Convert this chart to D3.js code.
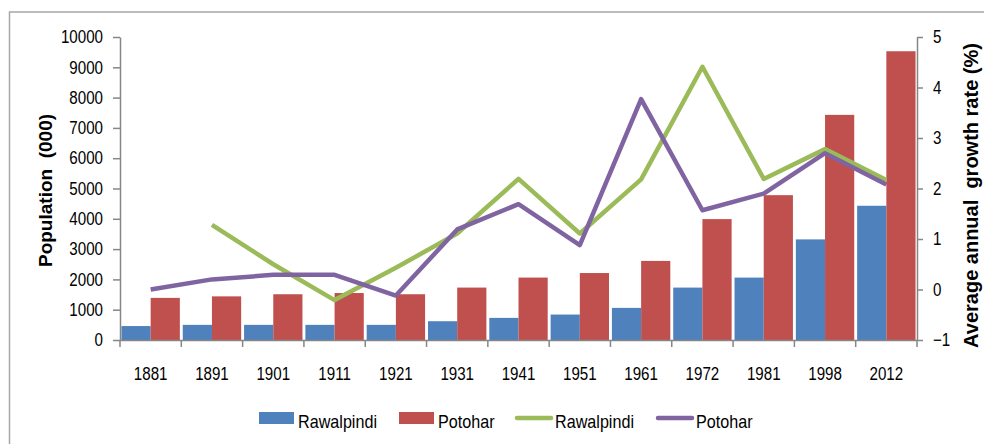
<!DOCTYPE html>
<html>
<head>
<meta charset="utf-8">
<script src="https://cdn.jsdelivr.net/npm/d3@7"></script>
<style>
  body { margin: 0; background: #fff; }
  text { font-family: "Liberation Sans", sans-serif; fill: #000; }
  .title { font-weight: bold; white-space: pre; }
  .axis path, .axis line { stroke: #868686; stroke-width: 1.5; }
</style>
</head>
<body>
<div id="graph-container"></div>
<script>
const years = ['1881', '1891', '1901', '1911', '1921', '1931', '1941', '1951', '1961', '1972', '1981', '1998', '2012'];

// population (000)
const popRawalpindi = [460, 500, 500, 500, 500, 620, 730, 840, 1060, 1730, 2060, 3320, 4430];
const popPotohar = [1390, 1440, 1510, 1550, 1510, 1730, 2060, 2210, 2610, 3990, 4780, 7430, 9530];

// average annual growth rate (%), no value for Rawalpindi in 1881
const rateRawalpindi = [null, 1.28, 0.5, -0.21, 0.43, 1.11, 2.19, 1.11, 2.18, 4.41, 2.19, 2.78, 2.17];
const ratePotohar = [0, 0.2, 0.29, 0.29, -0.12, 1.19, 1.69, 0.88, 3.77, 1.57, 1.9, 2.7, 2.08];

const popTicks = [0, 1000, 2000, 3000, 4000, 5000, 6000, 7000, 8000, 9000, 10000];
const rateTicks = [-1, 0, 1, 2, 3, 4, 5];

const legendItems = [
  { label: 'Rawalpindi', color: '#4F81BD', type: 'bar' },
  { label: 'Potohar', color: '#C0504D', type: 'bar' },
  { label: 'Rawalpindi', color: '#9BBB59', type: 'line' },
  { label: 'Potohar', color: '#8064A2', type: 'line' }
];

const width = 984, height = 444;
const plot = { left: 120, right: 917, top: 37, bottom: 340 };

// the original uses a condensed face; squeeze regular text horizontally
function narrow(sel, k) {
  sel.each(function() {
    this.setAttribute('textLength', this.getComputedTextLength() * k);
    this.setAttribute('lengthAdjust', 'spacingAndGlyphs');
  });
}

const svg = d3.select('#graph-container')
  .append('svg')
  .attr('width', width)
  .attr('height', height);

// outer chart frame (only top and left edges are visible in the picture)
svg.append('rect')
  .attr('x', 9.5)
  .attr('y', 12)
  .attr('width', width + 20)
  .attr('height', height + 20)
  .attr('fill', 'none')
  .attr('stroke', '#a6a6a6')
  .attr('stroke-width', 1.5);

const x = d3.scaleBand()
  .domain(years)
  .range([plot.left, plot.right]);

const yPop = d3.scaleLinear()
  .domain([0, 10000])
  .range([plot.bottom, plot.top]);

const yRate = d3.scaleLinear()
  .domain([-1, 5])
  .range([plot.bottom, plot.top]);

// two bars per year, filling ~90% of the band
const inner = d3.scaleBand()
  .domain([0, 1])
  .range([0, x.bandwidth()])
  .paddingOuter(0.05);

const barSeries = [
  { values: popRawalpindi, color: '#4F81BD' },
  { values: popPotohar, color: '#C0504D' }
];

barSeries.forEach(function(s, si) {
  svg.append('g')
    .selectAll('rect')
    .data(s.values)
    .enter()
    .append('rect')
    .attr('x', (d, i) => x(years[i]) + inner(si))
    .attr('y', d => yPop(d))
    .attr('width', inner.bandwidth())
    .attr('height', d => yPop(0) - yPop(d))
    .attr('fill', s.color);
});

// lines
const lineSeries = [
  { values: rateRawalpindi, color: '#9BBB59' },
  { values: ratePotohar, color: '#8064A2' }
];

const line = d3.line()
  .defined(d => d != null)
  .x((d, i) => x(years[i]) + x.bandwidth() / 2)
  .y(d => yRate(d));

lineSeries.forEach(function(s) {
  svg.append('path')
    .datum(s.values)
    .attr('d', line)
    .attr('fill', 'none')
    .attr('stroke', s.color)
    .attr('stroke-width', 4.5)
    .attr('stroke-linejoin', 'round');
});

// left axis
const leftAxis = svg.append('g')
  .attr('class', 'axis')
  .attr('transform', 'translate(' + plot.left + ',0)')
  .call(d3.axisLeft(yPop).tickValues(popTicks).tickFormat(d3.format('d'))
    .tickSize(7).tickSizeOuter(0).tickPadding(10));

// right axis
const rightAxis = svg.append('g')
  .attr('class', 'axis')
  .attr('transform', 'translate(' + plot.right + ',0)')
  .call(d3.axisRight(yRate).tickValues(rateTicks).tickFormat(d3.format('d'))
    .tickSize(6).tickSizeOuter(0).tickPadding(10));

// x axis, ticks at band edges
const xAxis = svg.append('g')
  .attr('class', 'axis')
  .attr('transform', 'translate(0,' + plot.bottom + ')')
  .call(d3.axisBottom(x).tickSize(0).tickPadding(27));

xAxis.selectAll('.edge')
  .data(years.concat(['end']))
  .enter()
  .append('line')
  .attr('class', 'edge')
  .attr('x1', (d, i) => i < years.length ? x(d) : plot.right)
  .attr('x2', (d, i) => i < years.length ? x(d) : plot.right)
  .attr('y1', 0)
  .attr('y2', 7);

[leftAxis, rightAxis, xAxis].forEach(function(a) {
  a.selectAll('.tick text')
    .style('font-size', '18px')
    .attr('fill', '#000')
    .call(narrow, 0.84);
});

// axis titles
svg.append('text')
  .attr('class', 'title')
  .attr('transform', 'translate(52,' + ((plot.top + plot.bottom) / 2 + 2) + ') rotate(-90)')
  .attr('text-anchor', 'middle')
  .style('font-size', '19px')
  .text('Population  (000)');

svg.append('text')
  .attr('class', 'title')
  .attr('transform', 'translate(978,' + ((plot.top + plot.bottom) / 2 + 7) + ') rotate(-90)')
  .attr('text-anchor', 'middle')
  .style('font-size', '20px')
  .text('Average annual  growth rate (%)');

// legend
const legendX = [259, 399, 516, 657];
const legend = svg.append('g');

legendItems.forEach(function(item, i) {
  const g = legend.append('g')
    .attr('transform', 'translate(' + legendX[i] + ',418)');
  if (item.type === 'bar') {
    g.append('rect')
      .attr('x', 0)
      .attr('y', -6)
      .attr('width', 35)
      .attr('height', 12)
      .attr('fill', item.color);
  } else {
    g.append('line')
      .attr('x1', 1)
      .attr('x2', 35)
      .attr('y1', 0)
      .attr('y2', 0)
      .attr('stroke', item.color)
      .attr('stroke-width', 4.5)
      .attr('stroke-linecap', 'round');
  }
  g.append('text')
    .attr('x', 39)
    .attr('y', 10)
    .style('font-size', '19px')
    .text(item.label)
    .call(narrow, 0.85);
});
</script>
</body>
</html>
